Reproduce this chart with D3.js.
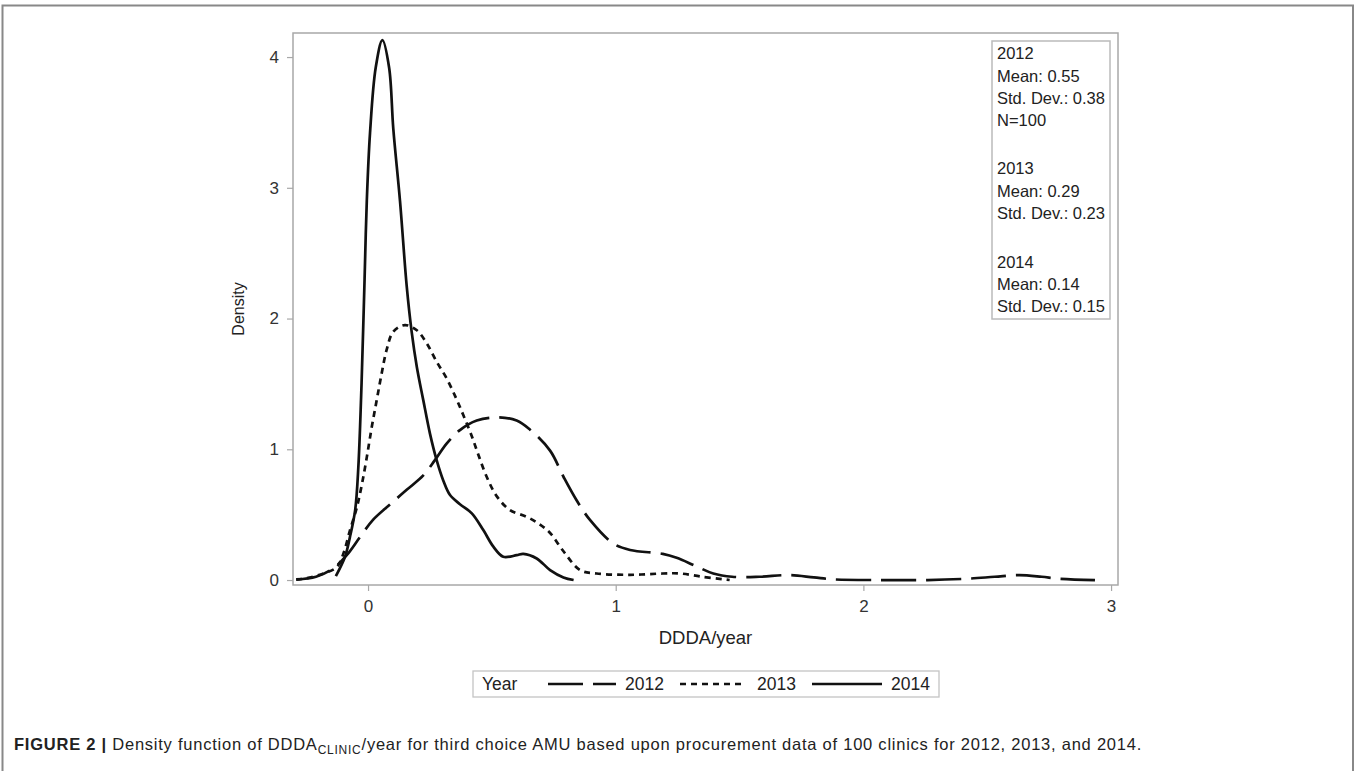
<!DOCTYPE html>
<html><head><meta charset="utf-8">
<script src="https://cdnjs.cloudflare.com/ajax/libs/d3/7.8.5/d3.min.js"></script>
<style>body{margin:0;background:#fff}svg{display:block}</style>
</head><body>
<svg id="c" width="1359" height="771"></svg>
<script>
// ---- data ----
const x2012 = [-0.29,-0.21,-0.14,-0.086,-0.032,0.02,0.09,0.156,0.223,0.27,0.318,0.371,0.439,0.52,0.6,0.654,0.735,0.789,0.842,0.896,0.99,1.058,1.19,1.246,1.32,1.394,1.47,1.58,1.70,1.80,1.88,2.07,2.26,2.42,2.53,2.63,2.72,2.79,2.935];
const y2012 = [0.005,0.025,0.09,0.19,0.33,0.46,0.58,0.69,0.8,0.917,1.045,1.147,1.22,1.244,1.22,1.15,0.99,0.79,0.61,0.46,0.28,0.23,0.20,0.17,0.11,0.05,0.025,0.025,0.038,0.02,0.005,0.0,0.0,0.01,0.025,0.038,0.025,0.01,0.0];
const x2013 = [-0.29,-0.25,-0.18,-0.126,-0.1,-0.073,-0.046,-0.025,-0.005,0.015,0.035,0.055,0.075,0.102,0.149,0.197,0.237,0.277,0.318,0.358,0.385,0.419,0.445,0.479,0.52,0.573,0.64,0.69,0.735,0.789,0.856,0.923,1.058,1.19,1.26,1.35,1.46];
const y2013 = [0.003,0.013,0.05,0.10,0.2,0.38,0.55,0.73,0.94,1.17,1.376,1.58,1.76,1.90,1.95,1.91,1.81,1.67,1.54,1.38,1.26,1.10,0.96,0.79,0.64,0.535,0.484,0.43,0.36,0.22,0.076,0.05,0.04,0.05,0.05,0.025,0.0];
const x2014 = [-0.13,-0.093,-0.073,-0.052,-0.039,-0.028,-0.02,-0.014,-0.005,0.008,0.031,0.058,0.085,0.102,0.129,0.156,0.176,0.197,0.223,0.25,0.277,0.304,0.331,0.371,0.419,0.466,0.506,0.546,0.6,0.627,0.681,0.735,0.789,0.83];
const y2014 = [0.03,0.178,0.33,0.535,0.87,1.4,1.9,2.3,2.9,3.42,3.92,4.13,3.92,3.45,2.9,2.25,1.9,1.63,1.376,1.12,0.917,0.76,0.65,0.58,0.51,0.38,0.255,0.178,0.19,0.20,0.165,0.076,0.02,0.0];
const xTicks = [0,1,2,3];
const yTicks = [0,1,2,3,4];
const statLines = [
  {t:"2012", y:53},{t:"Mean: 0.55", y:76},{t:"Std. Dev.: 0.38", y:98},{t:"N=100", y:120},
  {t:"2013", y:168},{t:"Mean: 0.29", y:191},{t:"Std. Dev.: 0.23", y:213},
  {t:"2014", y:262},{t:"Mean: 0.14", y:284},{t:"Std. Dev.: 0.15", y:306}
];
const seriesNames = ["2012","2013","2014"];

// ---- drawing ----
const svg = d3.select("#c");
const F = "'Liberation Sans', Arial, sans-serif";
const L = 293, R = 1118, T = 33, B = 585;
const x = d3.scaleLinear().domain([-0.303, 3.028]).range([L, R]);
const y = d3.scaleLinear().domain([-0.038, 4.184]).range([B, T]);

// outer figure frame
svg.append("rect").attr("x",2.5).attr("y",5.5).attr("width",1350.5).attr("height",800)
  .attr("fill","none").attr("stroke","#888").attr("stroke-width",2);

// plot frame
svg.append("rect").attr("x",L).attr("y",T).attr("width",R-L).attr("height",B-T)
  .attr("fill","none").attr("stroke","#a8a8a8").attr("stroke-width",1.5);

// axes
const xAxis = svg.append("g").attr("transform",`translate(0,${B})`)
  .call(d3.axisBottom(x).tickValues(xTicks).tickFormat(d3.format("d")).tickSize(6).tickPadding(9));
const yAxis = svg.append("g").attr("transform",`translate(${L},0)`)
  .call(d3.axisLeft(y).tickValues(yTicks).tickFormat(d3.format("d")).tickSize(6).tickPadding(8));
[xAxis,yAxis].forEach(g=>{
  g.select(".domain").remove();
  g.selectAll(".tick line").attr("stroke","#a8a8a8").attr("stroke-width",1.2);
  g.selectAll(".tick text").attr("font-family",F).attr("font-size",17).attr("fill","#333");
});

svg.append("text").attr("x",(L+R)/2).attr("y",644).attr("text-anchor","middle")
  .attr("font-family",F).attr("font-size",18.5).attr("fill","#222").text("DDDA/year");
svg.append("text").attr("transform",`translate(244,${(T+B)/2}) rotate(-90)`).attr("text-anchor","middle")
  .attr("font-family",F).attr("font-size",16).attr("fill","#222").text("Density");

// curves
const line = d3.line().x(d=>x(d[0])).y(d=>y(d[1])).curve(d3.curveCatmullRom.alpha(0.5));
const styles = {"2012":"35 10","2013":"6 5","2014":null};
const data = {"2012":d3.zip(x2012,y2012),"2013":d3.zip(x2013,y2013),"2014":d3.zip(x2014,y2014)};
seriesNames.forEach(s=>{
  svg.append("path").attr("d",line(data[s])).attr("fill","none").attr("stroke","#111")
    .attr("stroke-width",2.7).attr("stroke-dasharray",styles[s]);
});

// inset stats box
svg.append("rect").attr("x",992).attr("y",41).attr("width",118).attr("height",278)
  .attr("fill","#fff").attr("stroke","#bbb").attr("stroke-width",1.5);
svg.selectAll("text.stat").data(statLines).enter().append("text").attr("class","stat")
  .attr("x",997).attr("y",d=>d.y).attr("dy","0.35em").attr("font-family",F).attr("font-size",16.5)
  .attr("fill","#222").text(d=>d.t);

// bottom legend
svg.append("rect").attr("x",473).attr("y",671).attr("width",466).attr("height",26)
  .attr("fill","#fff").attr("stroke","#c4c4c4").attr("stroke-width",1.3);
const ly = 684;
svg.append("text").attr("x",482).attr("y",ly).attr("dy","0.35em").attr("font-family",F).attr("font-size",17.5).attr("fill","#222").text("Year");
const legItems = [{s:"2012",x1:548,x2:616,tx:625},{s:"2013",x1:680,x2:745,tx:757},{s:"2014",x1:812,x2:882,tx:891}];
legItems.forEach(d=>{
  svg.append("line").attr("x1",d.x1).attr("x2",d.x2).attr("y1",ly).attr("y2",ly)
    .attr("stroke","#111").attr("stroke-width",2.7).attr("stroke-dasharray",styles[d.s]);
  svg.append("text").attr("x",d.tx).attr("y",ly).attr("dy","0.35em").attr("font-family",F).attr("font-size",17.5).attr("fill","#222").text(d.s);
});

// caption
const cap = svg.append("text").attr("x",14).attr("y",750).attr("font-family",F).attr("font-size",16.5).attr("fill","#222");
cap.append("tspan").attr("font-weight","bold").text("FIGURE 2 | ");
cap.append("tspan").text("Density function of DDDA");
cap.append("tspan").attr("font-size",12).attr("dy",4).text("CLINIC");
cap.append("tspan").attr("dy",-4).text("/year for third choice AMU based upon procurement data of 100 clinics for 2012, 2013, and 2014.");
const natural = cap.node().getComputedTextLength();
const nChars = cap.text().length;
cap.attr("letter-spacing", Math.max(0, ((1142 - 14) - natural) / nChars));
</script>
</body></html>
